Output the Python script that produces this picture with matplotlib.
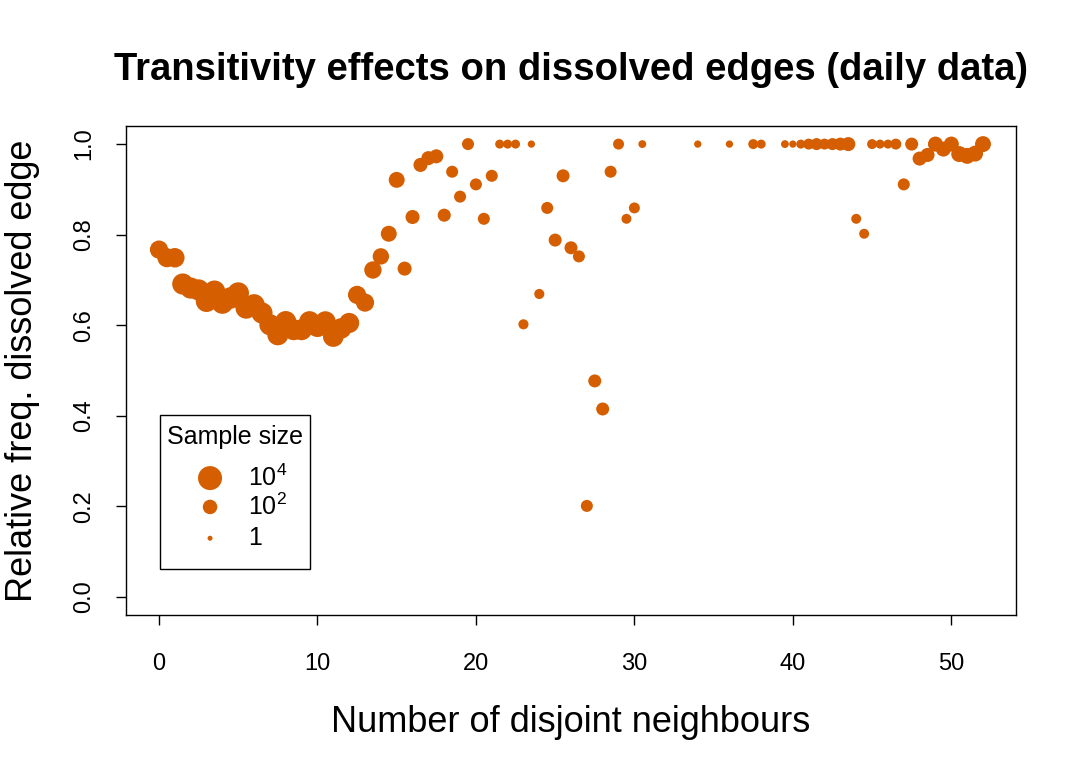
import numpy as np
import matplotlib
matplotlib.use("Agg")
from matplotlib import pyplot as plt
from matplotlib.patches import Rectangle

plt.rcParams['font.family'] = ['Liberation Sans', 'DejaVu Sans']
plt.rcParams['mathtext.fontset'] = 'custom'
plt.rcParams['mathtext.rm'] = 'Liberation Sans'
plt.rcParams['mathtext.it'] = 'Liberation Sans:italic'

# x values: number of disjoint neighbours, y: relative freq. of dissolved edge, n: sample size
neighbours = [0, 0.5, 1, 1.5, 2, 2.5, 3, 3.5, 4, 4.5, 5, 5.5, 6, 6.5, 7, 7.5, 8, 8.5, 9, 9.5,
              10, 10.5, 11, 11.5, 12, 12.5, 13, 13.5, 14, 14.5, 15, 15.5, 16, 16.5, 17, 17.5,
              18, 18.5, 19, 19.5, 20, 20.5, 21, 21.5, 22, 22.5, 23, 23.5, 24, 24.5, 25, 25.5,
              26, 26.5, 27, 27.5, 28, 28.5, 29, 29.5, 30, 30.5, 34, 36, 37.5, 38, 39.5, 40,
              40.5, 41, 41.5, 42, 42.5, 43, 43.5, 44, 44.5, 45, 45.5, 46, 46.5, 47, 47.5, 48,
              48.5, 49, 49.5, 50, 50.5, 51, 51.5, 52]
rel_freq = [0.767, 0.749, 0.749, 0.691, 0.682, 0.678, 0.653, 0.675, 0.649, 0.660, 0.671, 0.638,
            0.645, 0.627, 0.601, 0.579, 0.608, 0.590, 0.590, 0.608, 0.597, 0.608, 0.575, 0.593,
            0.605, 0.667, 0.650, 0.722, 0.752, 0.802, 0.921, 0.725, 0.839, 0.954, 0.969, 0.973,
            0.843, 0.939, 0.884, 1.0, 0.911, 0.835, 0.930, 1.0, 1.0, 1.0, 0.602, 1.0, 0.669,
            0.859, 0.788, 0.930, 0.771, 0.752, 0.201, 0.477, 0.415, 0.939, 1.0, 0.835, 0.859,
            1.0, 1.0, 1.0, 1.0, 1.0, 1.0, 1.0, 1.0, 1.0, 1.0, 1.0, 1.0, 1.0, 1.0, 0.835, 0.802,
            1.0, 1.0, 1.0, 1.0, 0.911, 1.0, 0.968, 0.976, 1.0, 0.989, 1.0, 0.978, 0.974, 0.979,
            1.0]
sample_size = [600, 900, 1100, 2500, 2500, 2500, 3000, 3000, 3000, 3000, 3000, 2800, 2800,
               2500, 2500, 2500, 2500, 2200, 2200, 2200, 2200, 2000, 2000, 1800, 1500, 600,
               600, 400, 250, 200, 200, 80, 80, 80, 80, 80, 50, 30, 30, 30, 30, 30, 30, 7, 7,
               7, 12, 3, 12, 30, 48, 48, 48, 30, 30, 48, 48, 30, 18, 11, 18, 4, 3, 3, 11, 7,
               4, 3, 7, 18, 30, 18, 30, 48, 80, 11, 11, 11, 7, 7, 18, 30, 48, 80, 80, 130, 130,
               130, 200, 200, 200, 200]

legend_sizes = [10**4, 10**2, 1]
legend_labels = ['$10^4$', '$10^2$', '1']

col = '#D55E00'
dpi = 100


def marker_diam(n):
    # diameter in points, grows with log10 of sample size
    return (5 + 4.75 * np.log10(n)) * 72 / dpi


fig = plt.figure(figsize=(10.8, 7.71), dpi=dpi)
ax = fig.add_axes([0.1167, 0.2023, 0.824, 0.6343])

d = marker_diam(np.array(sample_size, dtype=float))
ax.scatter(neighbours, rel_freq, s=d**2, c=col, edgecolors='none', zorder=3)

ax.set_xlim(-2.08, 54.08)
ax.set_ylim(-0.04, 1.04)
ax.set_xticks([0, 10, 20, 30, 40, 50])
ax.set_yticks([0.0, 0.2, 0.4, 0.6, 0.8, 1.0])
ax.set_yticklabels(['0.0', '0.2', '0.4', '0.6', '0.8', '1.0'], rotation=90, va='center')
ax.tick_params(axis='both', length=7, width=1, labelsize=17, direction='out')
ax.tick_params(axis='x', pad=20)
ax.tick_params(axis='y', pad=15)
for s in ax.spines.values():
    s.set_linewidth(1)

ax.set_xlabel('Number of disjoint neighbours', fontsize=26, labelpad=22)
ax.set_ylabel('Relative freq. dissolved edge', fontsize=26, labelpad=24)
ax.set_title('Transitivity effects on dissolved edges (daily data)', fontsize=27.5,
             fontweight='bold', pad=33)

# legend box drawn in axes fraction, R style
ax.add_patch(Rectangle((0.0382, 0.0941), 0.1685, 0.3149, transform=ax.transAxes,
                       facecolor='white', edgecolor='black', linewidth=1, zorder=4))
ax.text(0.1225, 0.364, 'Sample size', transform=ax.transAxes, ha='center', va='center',
        fontsize=18, zorder=5)
row_y = [0.280, 0.221, 0.157]
ld = marker_diam(np.array(legend_sizes, dtype=float))
ax.scatter([0.0944] * 3, row_y, s=ld**2, c=col, edgecolors='none',
           transform=ax.transAxes, zorder=5, clip_on=False)
for yy, lab in zip(row_y, legend_labels):
    ax.text(0.137, yy, lab, transform=ax.transAxes, ha='left', va='center',
            fontsize=18, zorder=5)

fig.savefig('out.png', dpi=dpi)
